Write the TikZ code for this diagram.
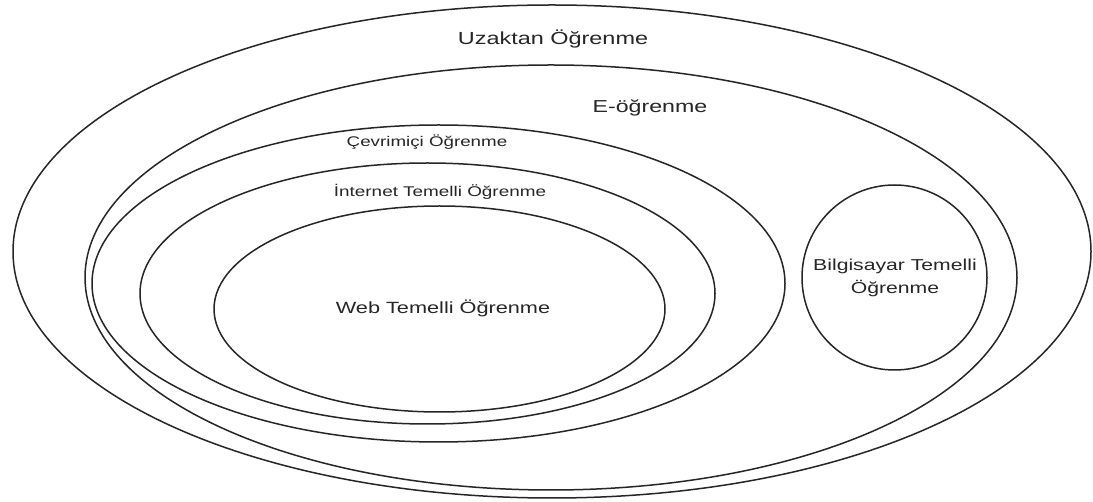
\documentclass[tikz,border=0pt]{standalone}
\usepackage{fontspec}
\setmainfont{Liberation Sans}
\begin{document}
\begin{tikzpicture}[x=1pt,y=-1pt,
  ring/.style={draw=black!85, line width=1.5pt},
  lbl/.style={inner sep=0pt, text=black!85}]
\useasboundingbox[fill=white] (0,0) rectangle (1093,502);
\draw[ring] (552,251.5) ellipse [x radius=539pt, y radius=246.5pt];
\draw[ring] (551,277.5) ellipse [x radius=466pt, y radius=212.5pt];
\draw[ring] (438.5,283.5) ellipse [x radius=346.5pt, y radius=158.5pt];
\draw[ring] (427.5,293.5) ellipse [x radius=287.5pt, y radius=130.5pt];
\draw[ring] (439.5,309) ellipse [x radius=225.5pt, y radius=103pt];
\draw[ring] (894.5,277.5) circle [radius=92.5pt];
\node[lbl] (uz) at (553,39) {\fontsize{17.5}{19}\selectfont\scalebox{1.34}[1]{Uzaktan Öğrenme}};
\node[lbl] (eo) at (650,108) {\fontsize{17.3}{19}\selectfont\scalebox{1.34}[1]{E-öğrenme}};
\node[lbl] (ce) at (427,142) {\fontsize{14}{16}\selectfont\scalebox{1.34}[1]{Çevrimiçi Öğrenme}};
\node[lbl] (in) at (440,192) {\fontsize{14.1}{16}\selectfont\scalebox{1.34}[1]{İnternet Temelli Öğrenme}};
\node[lbl] (we) at (443,308) {\fontsize{16.2}{18}\selectfont\scalebox{1.34}[1]{Web Temelli Öğrenme}};
\node[lbl, align=center, font=\fontsize{15.8}{23}\selectfont] (bi) at (895,278) {\scalebox{1.34}[1]{Bilgisayar Temelli}\\\scalebox{1.34}[1]{Öğrenme}};
\end{tikzpicture}
\end{document}
